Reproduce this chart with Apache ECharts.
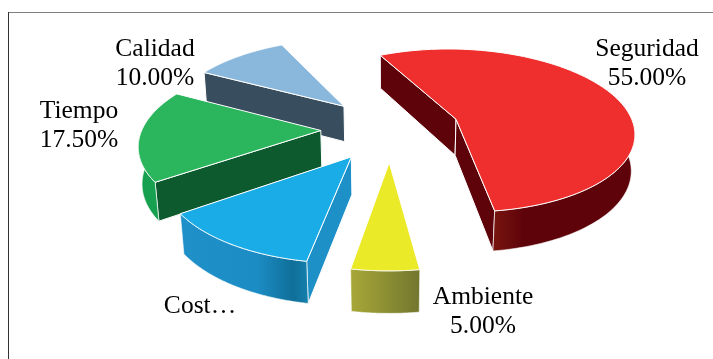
<!DOCTYPE html>
<html><head><meta charset="utf-8">
<style>html,body{margin:0;padding:0;background:#fff}#c{width:713px;height:359px}</style>
<script src="https://cdn.jsdelivr.net/npm/echarts@6/dist/echarts.min.js"></script>
</head><body><div id="c"></div>
<script>
var categories = ['Seguridad','Ambiente','Costo','Tiempo','Calidad'];
var values = [55, 5, 12.5, 17.5, 10];
var labelNames = ['Seguridad','Ambiente','Cost…','Tiempo','Calidad'];
var drawOrder = [4,0,3,2,1];

var view = {cx:390.5, cy:128.5, R:178.5, Ry:82.5, H:37, p:0.14, q:0.015, explode:0.39, startAngle:334};
var palette = [
 {top:'#ef2e2e', wall:'#5e030a', rim:[[0,'#78150f'],[0.22,'#5e030a'],[1,'#5e030a']]},
 {top:'#ebea28', wall:'#9a9c34', rim:[[0,'#a8a838'],[1,'#72762e']]},
 {top:'#19ace6', wall:'#1e90c8', rim:[[0,'#2090c8'],[0.6,'#1c8cc4'],[0.88,'#0f6f99'],[1,'#1580ad']]},
 {top:'#2bb65e', wall:'#0d5a2f', rim:[[0,'#17a04f'],[1,'#17a04f']]},
 {top:'#8ab8dc', wall:'#384d5e', rim:[[0,'#384d5e'],[1,'#384d5e']]}
];
var labelBoxes = [[647,64],[483,312],[200,306],[79,126],[155,64]];
var hasValueLine = [true,true,false,true,true];

var total = values.reduce(function(a,b){return a+b},0);
function rad(d){return d*Math.PI/180}
function project(u,v,h){
  var w = 1 - view.p*v + view.q*h;
  return [view.cx + view.R*u/w, view.cy + (view.Ry*v + view.H*h)/w];
}
function sliceAngles(i){
  var s = view.startAngle;
  for (var k=0;k<i;k++) s += values[k]/total*360;
  return [s, s + values[i]/total*360];
}
function point(a, m, r, h){
  var e = view.explode;
  return project(r*Math.sin(rad(a)) + e*Math.sin(rad(m)), -r*Math.cos(rad(a)) - e*Math.cos(rad(m)), h);
}
function renderItem(params, api){
  var i = api.value(0), ang = sliceAngles(i), a0 = ang[0], a1 = ang[1], m = (a0+a1)/2, c = palette[i];
  function poly(points, fill, strokeW){
    return {type:'polygon', shape:{points:points}, style:{fill:fill, stroke:'#fff', lineWidth:strokeW===undefined?1:strokeW}};
  }
  var kids = [];
  [[a0,a0-90],[a1,a1+90]].forEach(function(w){
    if (-Math.cos(rad(w[1]))>0){
      kids.push(poly([point(w[0],m,0,0),point(w[0],m,1,0),point(w[0],m,1,1),point(w[0],m,0,1)], c.wall));
    }
  });
  var rimTop=[], rimBot=[], topFace=[point(a0,m,0,0)];
  for (var t=0;t<=120;t++){
    var a = a0+(a1-a0)*t/120;
    topFace.push(point(a,m,1,0));
    if (-Math.cos(rad(a))>=-0.02){ rimTop.push(point(a,m,1,0)); rimBot.unshift(point(a,m,1,1)); }
  }
  if (rimTop.length>1){
    kids.push(poly(rimTop.concat(rimBot), {type:'linear',x:0,y:0,x2:1,y2:0,colorStops:c.rim.map(function(s){return {offset:s[0],color:s[1]}})},0.6));
  }
  kids.push(poly(topFace, c.top));
  var pos = labelBoxes[i];
  kids.push({type:'text', x:pos[0], y:pos[1], style:{
    text: labelNames[i] + (hasValueLine[i] ? '\n'+values[i].toFixed(2)+'%' : ''),
    font:'25.5px "Liberation Serif"', fill:'#000', align:'center', verticalAlign:'middle', lineHeight:29
  }, z2:10});
  return {type:'group', children:kids};
}
var chart = echarts.init(document.getElementById('c'), null, {renderer:'canvas'});
chart.setOption({
  animation:false, backgroundColor:'#fff',
  graphic:[
    {type:'line', shape:{x1:8,y1:12.5,x2:713,y2:12.5}, style:{stroke:'#808080',lineWidth:1.2}},
    {type:'line', shape:{x1:8.5,y1:12,x2:8.5,y2:359}, style:{stroke:'#333',lineWidth:1}}
  ],
  series:[{type:'custom', coordinateSystem:'none', renderItem:renderItem, silent:true,
    data:drawOrder.map(function(i){return {name:categories[i], value:[i, values[i]]}})}]
});
</script></body></html>
